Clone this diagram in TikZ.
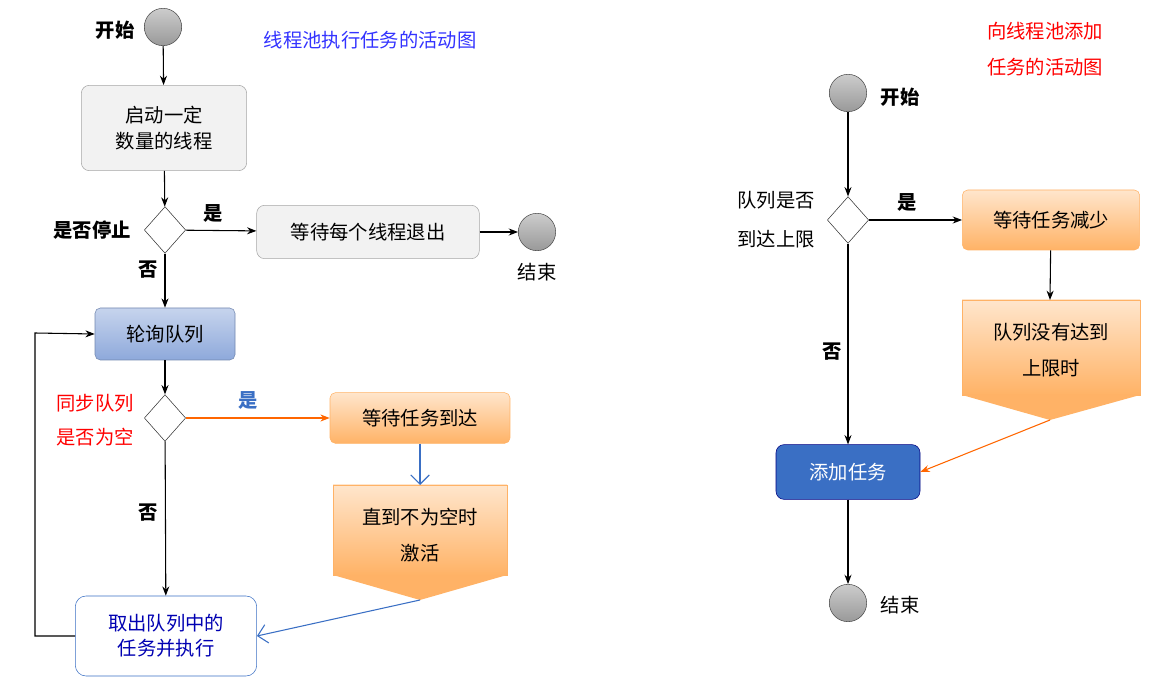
\documentclass[tikz,border=0pt]{standalone}
\usepackage{fontspec}
\setmainfont{Noto Sans CJK SC}
\usetikzlibrary{shapes.geometric,arrows.meta}
\definecolor{dblue}{HTML}{3A6FC4}
\definecolor{lblue}{HTML}{8EA9DB}
\begin{document}
\begin{tikzpicture}[x=0.75pt,y=-0.75pt,font=\fontsize{14.5}{19}\selectfont,
 circ/.style={circle,draw=black!70,inner sep=0,minimum size=28pt,top color=gray!40,bottom color=gray!80},
 box/.style={rounded corners=6pt,draw=gray!70,fill=gray!10,align=center},
 obox/.style={rounded corners=4pt,draw=orange!60,top color=orange!20,bottom color=orange!60,align=center},
 dia/.style={diamond,draw=black!80,fill=white,inner sep=0,minimum width=31pt,minimum height=35pt},
 arr/.style={-{Stealth[length=7pt]},thick,black},
 lbl/.style={font=\fontsize{14.5}{19}\selectfont\bfseries}]
\useasboundingbox (0,0) rectangle (1160,680);
% left
\node[circ] (s1) at (163,27) {};
\node[lbl] at (115,30) {开始};
\node[text=blue!80] at (370,40) {线程池执行任务的活动图};
\node[box,minimum width=124pt,minimum height=64pt] (b1) at (164,128) {启动一定\\数量的线程};
\node[dia] (d1) at (165,230) {};
\node[lbl] at (92,230) {是否停止};
\node[lbl] at (213,213) {是};
\node[lbl] at (148,270) {否};
\node[box,minimum width=167pt,minimum height=40pt] (b2) at (368,232) {等待每个线程退出};
\node[circ] (e1) at (537,232) {};
\node at (537,272) {结束};
\node[rounded corners=4pt,draw=lblue!80!black,top color=lblue!50,bottom color=lblue,minimum width=105pt,minimum height=39pt] (b3) at (165,334) {轮询队列};
\node[dia] (d2) at (165,418) {};
\node[text=red,align=center] at (95,420) {同步队列\\[6pt]是否为空};
\node[lbl,text=dblue] at (248,400) {是};
\node[lbl] at (148,513) {否};
\node[obox,minimum width=135pt,minimum height=38pt] (b4) at (420,418) {等待任务到达};
\coordinate (p1t) at (420,485);
\fill[top color=orange!20,bottom color=orange!60,draw=orange!60] (333,485) rectangle (507,575);
\fill[orange!60!white] (333,575) -- (507,575) -- (420,600) -- cycle;
\coordinate (p1b) at (420,600);
\node[align=center] at (420,535) {直到不为空时\\[8pt]激活};
\node[rounded corners=8pt,draw=dblue,fill=white,text=blue!70!black,align=center,minimum width=136pt,minimum height=60pt] (b5) at (166,636) {取出队列中的\\任务并执行};
\draw[arr] (s1) -- (b1);
\draw[arr] (b1) -- (d1);
\draw[arr] (d1) -- (b2);
\draw[arr] (b2) -- (e1);
\draw[arr] (d1) -- (b3);
\draw[arr] (b3) -- (d2);
\draw[arr,draw=orange!80!red] (d2) -- (b4);
\draw[-{Straight Barb[length=7pt]},thick,dblue] (b4) -- (p1t);
\draw[arr] (d2) -- (b5);
\draw[-{Straight Barb[length=7pt]},thick,dblue] (p1b) -- (b5.east);
\draw[arr] (b5.west) -- (35,636) -- (35,333) -- (b3.west);
% right
\node[text=red,align=center] at (1045,49) {向线程池添加\\[8pt]任务的活动图};
\node[circ] (s2) at (848,93) {};
\node[lbl] at (900,97) {开始};
\node[dia] (d3) at (848,220) {};
\node[align=center] at (776,220) {队列是否\\[10pt]到达上限};
\node[lbl] at (907,202) {是};
\node[obox,minimum width=133pt,minimum height=45pt] (b6) at (1051,220) {等待任务减少};
\coordinate (p2t) at (1050,300);
\fill[top color=orange!20,bottom color=orange!60,draw=orange!60] (962,300) rectangle (1140,395);
\fill[orange!60!white] (962,395) -- (1140,395) -- (1050,420) -- cycle;
\coordinate (p2b) at (1050,420);
\node[align=center] at (1051,350) {队列没有达到\\[8pt]上限时};
\node[rounded corners=6pt,draw=blue!50!black,fill=dblue,text=white,minimum width=108pt,minimum height=41pt] (b7) at (848,472) {添加任务};
\node[lbl] at (832,352) {否};
\node[circ] (e2) at (848,603) {};
\node at (900,605) {结束};
\draw[arr] (s2) -- (d3);
\draw[arr] (d3) -- (b6);
\draw[arr] (b6) -- (p2t);
\draw[arr] (d3) -- (b7);
\draw[arr] (b7) -- (e2);
\draw[-{Stealth[length=7pt]},thick,orange!80!red] (p2b) -- (b7.east);
\end{tikzpicture}
\end{document}
